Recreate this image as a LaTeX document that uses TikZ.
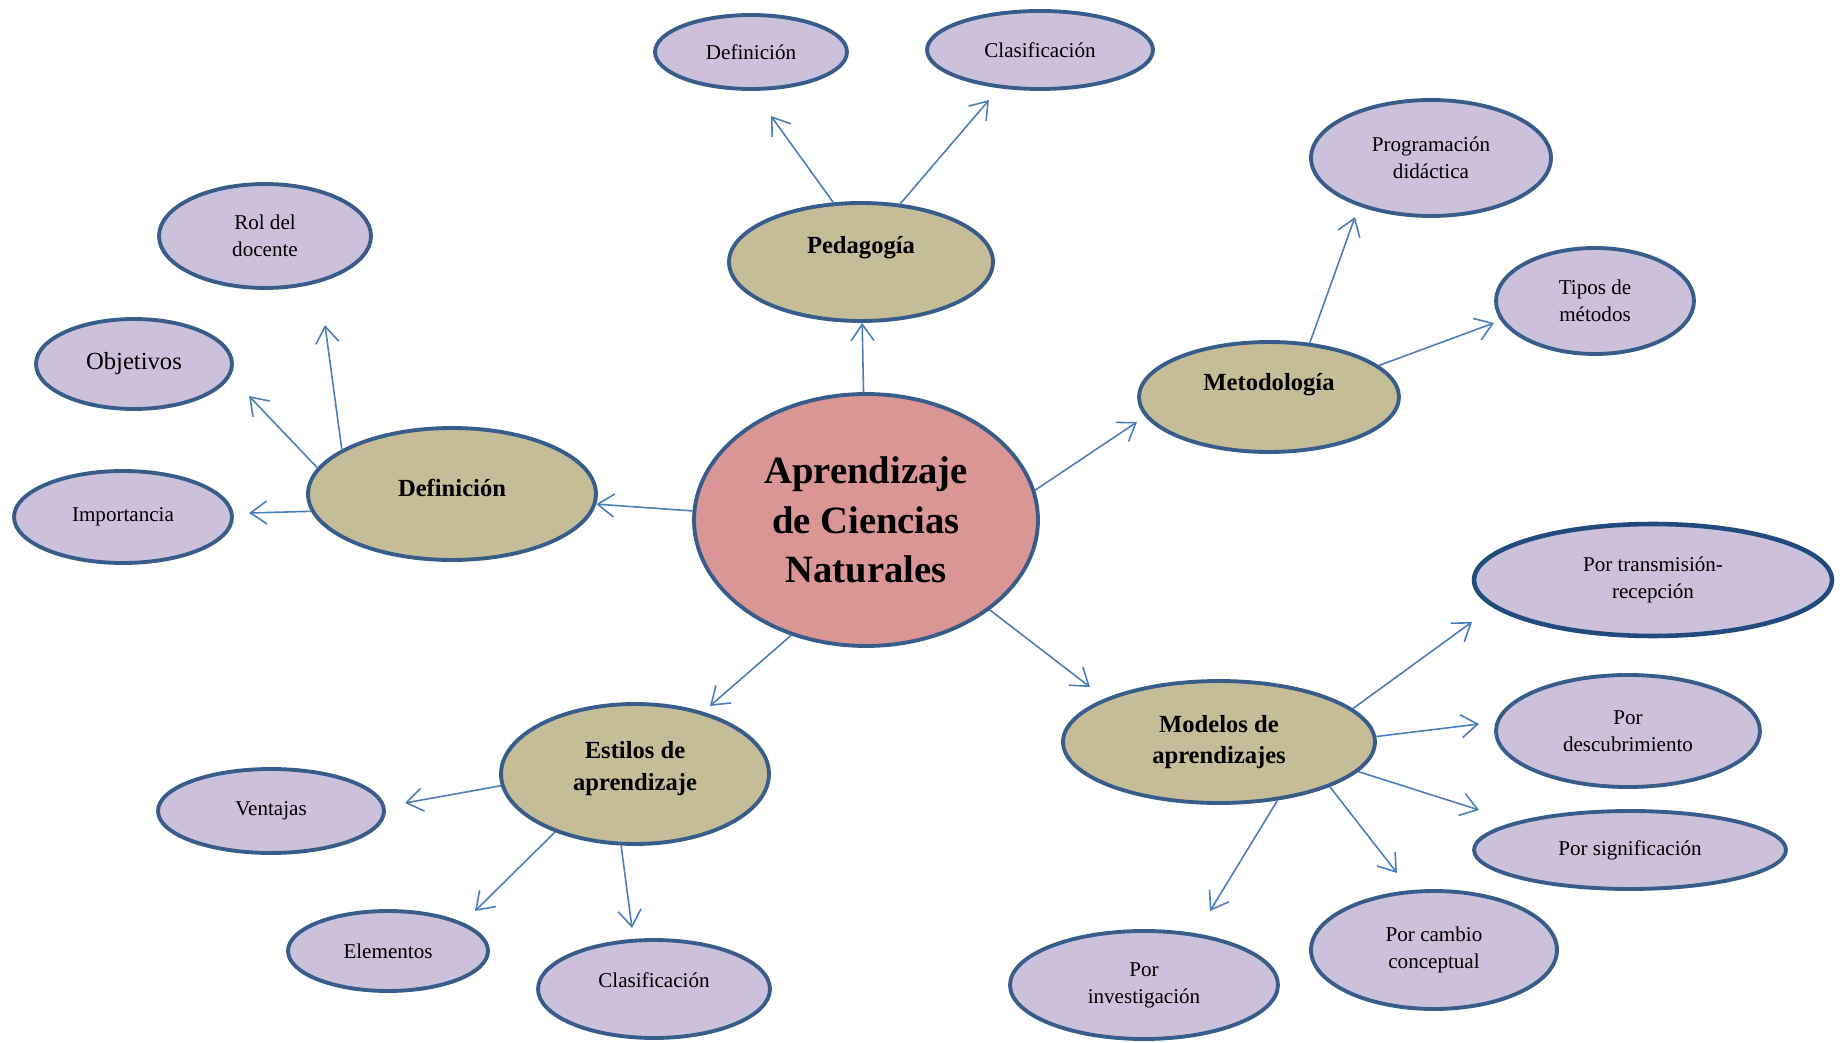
\documentclass[tikz,border=0pt]{standalone}
\usepackage{fontspec}
\setmainfont{Liberation Serif}
\usetikzlibrary{shapes.geometric,arrows.meta}

\begin{document}
\begin{tikzpicture}[x=0.02cm,y=-0.02cm]
  \definecolor{rim}  {RGB}{56,93,138};
  \definecolor{deep} {RGB}{33,74,125};
  \definecolor{link} {RGB}{74,126,187};
  \definecolor{core} {RGB}{217,150,148};
  \definecolor{topic}{RGB}{196,189,151};
  \definecolor{lilac}{RGB}{204,193,218};
  \tikzstyle{kind}=[ellipse,draw=rim,line width=2.2pt,inner sep=0pt,align=center]
  \tikzstyle{root}=[kind,fill=core,font=\fontsize{22}{28}\selectfont\bfseries]
  \tikzstyle{theme}=[kind,fill=topic,font=\fontsize{14}{18}\selectfont\bfseries]
  \tikzstyle{item}=[kind,fill=lilac,font=\fontsize{12}{15.5}\selectfont]
  \tikzstyle{arr}=[draw=link,line width=0.9pt,-{Straight Barb[length=0.33cm,width=0.46cm]}]
  \useasboundingbox (0,0) rectangle (1840,1043);

  \node (apr) at (866,520) [root,minimum width=6.88cm,minimum height=5.04cm] {Aprendizaje\\de Ciencias\\Naturales};

  \node (peda)  at (861,262) [theme,minimum width=5.28cm,minimum height=2.36cm,text depth=0.67cm] {Pedagogía};
  \node (defA)  at (751,52)  [item,minimum width=3.84cm,minimum height=1.48cm] {Definición};
  \node (clasA) at (1040,50) [item,minimum width=4.52cm,minimum height=1.56cm] {Clasificación};

  \node (meto)  at (1269,397) [theme,minimum width=5.2cm,minimum height=2.2cm,text depth=0.59cm] {Metodología};
  \node (prog)  at (1431,158) [item,minimum width=4.8cm,minimum height=2.32cm] {Programación\\didáctica};
  \node (tipos) at (1595,301) [item,minimum width=3.96cm,minimum height=2.12cm] {Tipos de\\métodos};

  \node (defi)  at (452,494) [theme,minimum width=5.76cm,minimum height=2.64cm,text depth=0.24cm] {Definición};
  \node (rol)   at (265,236) [item,minimum width=4.24cm,minimum height=2.08cm] {Rol del\\docente};
  \node (obj)   at (134,364) [item,minimum width=3.92cm,minimum height=1.8cm,font=\fontsize{14}{18}\selectfont] {Objetivos};
  \node (imp)   at (123,517) [item,minimum width=4.36cm,minimum height=1.84cm] {Importancia};

  \node (esti)  at (635,774) [theme,minimum width=5.36cm,minimum height=2.8cm,text depth=0.33cm] {Estilos de\\aprendizaje};
  \node (vent)  at (271,811) [item,minimum width=4.52cm,minimum height=1.68cm] {Ventajas};
  \node (elem)  at (388,951) [item,minimum width=4.0cm,minimum height=1.6cm] {Elementos};
  \node (clasB) at (654,989) [item,minimum width=4.64cm,minimum height=1.96cm,text depth=0.36cm] {Clasificación};

  \node (mode)  at (1219,742) [theme,minimum width=6.24cm,minimum height=2.44cm] {Modelos de\\aprendizajes};
  \node (trans) at (1653,580) [item,draw=deep,line width=2.6pt,minimum width=7.16cm,minimum height=2.24cm] {Por transmisión-\\recepción};
  \node (desc)  at (1628,731) [item,minimum width=5.28cm,minimum height=2.24cm] {Por\\descubrimiento};
  \node (sig)   at (1630,850) [item,minimum width=6.24cm,minimum height=1.56cm] {Por significación};
  \node (camb)  at (1434,950) [item,minimum width=4.92cm,minimum height=2.36cm] {Por cambio\\conceptual};
  \node (inv)   at (1144,985) [item,minimum width=5.36cm,minimum height=2.16cm] {Por\\investigación};

  \coordinate (toDefA)  at (771,116);
  \coordinate (toClasA) at (989,100);
  \coordinate (toMeto)  at (1137,422);
  \coordinate (toProg)  at (1355,217);
  \coordinate (toTipos) at (1494,323);
  \coordinate (toRol)   at (325,325);
  \coordinate (toObj)   at (249,396);
  \coordinate (toImp)   at (249,513);
  \coordinate (toEsti)  at (710,706);
  \coordinate (toVent)  at (405,803);
  \coordinate (toElem)  at (475,911);
  \coordinate (toClasB) at (632,928);
  \coordinate (toMode)  at (1090,687);
  \coordinate (toTrans) at (1472,622);
  \coordinate (toDesc)  at (1479,724);
  \coordinate (toSig)   at (1479,810);
  \coordinate (toCamb)  at (1397,873);
  \coordinate (toInv)   at (1210,911);

  \draw[arr] (apr) -- (peda);
  \draw[arr] (peda.115) -- (toDefA);
  \draw[arr] (peda.56) -- (toClasA);
  \draw[arr] (apr.10.7) -- (toMeto);
  \draw[arr] (meto.53) -- (toProg);
  \draw[arr] (meto.16) -- (toTipos);
  \draw[arr] (apr.177) -- (defi);
  \draw[arr] (defi.158) -- (toRol);
  \draw[arr] (defi.169.5) -- (toObj);
  \draw[arr] (defi.187.4) -- (toImp);
  \draw[arr] (apr.237) -- (toEsti);
  \draw[arr] (esti.185) -- (toVent);
  \draw[arr] (esti.216.5) -- (toElem);
  \draw[arr] (esti.259.3) -- (toClasB);
  \draw[arr] (apr.324.4) -- (toMode);
  \draw[arr] (mode.14.2) -- (toTrans);
  \draw[arr] (mode.2.2) -- (toDesc);
  \draw[arr] (mode.348.8) -- (toSig);
  \draw[arr] (mode.338.4) -- (toCamb);
  \draw[arr] (mode.315) -- (toInv);
\end{tikzpicture}
\end{document}
